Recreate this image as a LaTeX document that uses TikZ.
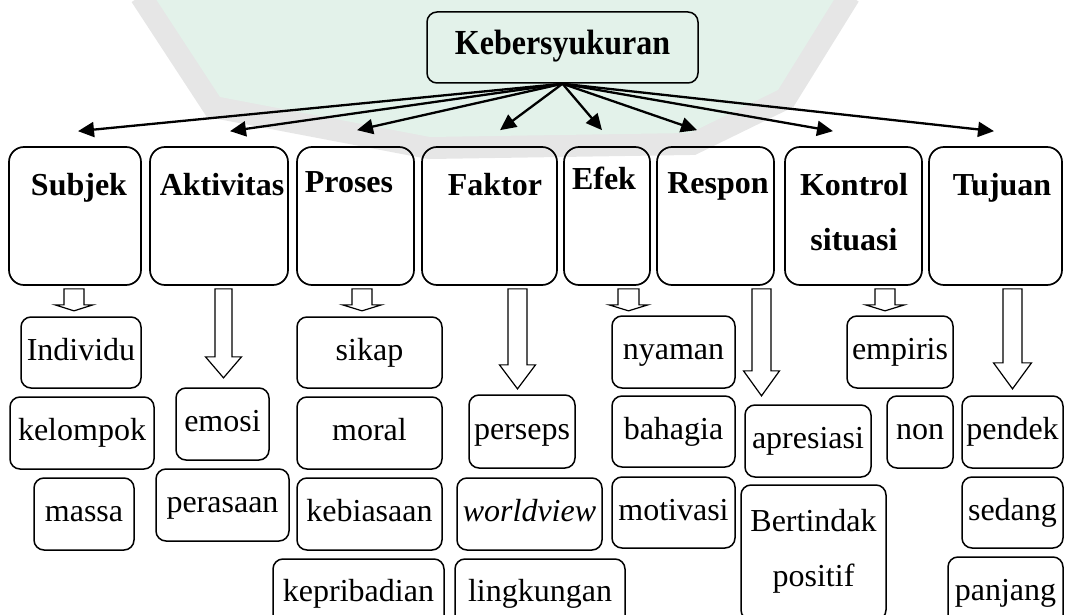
\documentclass[tikz,border=0pt]{standalone}
\usepackage{fontspec}
\setmainfont{Liberation Serif}
\usetikzlibrary{arrows.meta,calc}
\definecolor{wmgreen}{HTML}{E3F2EA}
\definecolor{wmgray}{HTML}{E6E6E6}
% box from (x1,y1) to (x2,y2) in pixel units, named #6
\newcommand\placebox[6][item]{\node[#1, minimum width={(#4-#2)*0.5pt}, minimum height={(#5-#3)*0.5pt}] (#6) at ({(#2+#4)/2},{(#3+#5)/2})}
% hollow down arrow under node #1: x offset, shaft half width, head base, tip, head half width
\newcommand\hollowdown[6]{%
  \begin{scope}[shift={(#1.south)}]
    \draw[hollow] ({#2-#3},3) -- ({#2+#3},3) -- ({#2+#3},#4) -- ({#2+#6},#4) -- (#2,#5) -- ({#2-#6},#4) -- ({#2-#3},#4) -- cycle;
  \end{scope}}
\begin{document}
\begin{tikzpicture}[x=0.5pt,y=-0.5pt,
  item/.style={draw, line width=0.75pt, rounded corners=5pt, inner sep=0pt,
    font=\fontsize{16}{19}\selectfont, text height=11pt, text depth=3.5pt},
  root/.style={item, font=\fontsize{16}{19}\selectfont\bfseries},
  cat/.style={draw, line width=0.85pt, rounded corners=7.5pt, inner sep=0pt},
  ttl/.style={font=\fontsize{16}{19}\selectfont\bfseries, inner sep=0pt, anchor=base},
  txt/.style={font=\fontsize{16}{19}\selectfont, inner sep=0pt, anchor=base},
  link/.style={line width=1.15pt, -{Triangle[length=8pt,width=7.5pt]}},
  hollow/.style={draw, line width=0.6pt, line join=miter},
]
\useasboundingbox (0,0) rectangle (1066,615);
\clip (0,0) rectangle (1066,615);

% background seal
\draw[wmgray, line width=22pt, line join=miter]
  (150,-10) -- (220,97) -- (430,137) -- (690,133) -- (778,90) -- (840,-10);
\fill[wmgreen] (150,-10) -- (220,97) -- (430,137) -- (690,133) -- (778,90) -- (840,-10) -- cycle;

% root
\placebox[root]{427}{12}{698}{83}{keb} {\scalebox{1}[1.1]{Kebersyukuran}};

% categories
\placebox[cat]{9}{147}{141}{285}{subjek} {};
\placebox[cat]{150}{147}{288}{285}{aktiv} {};
\placebox[cat]{297}{147}{414}{285}{proses} {};
\placebox[cat]{422}{147}{557}{285}{faktor} {};
\placebox[cat]{564}{147}{650}{285}{efek} {};
\placebox[cat]{657}{147}{774}{285}{respon} {};
\placebox[cat]{785}{147}{922}{285}{kontrol} {};
\placebox[cat]{929}{147}{1062}{285}{tujuan} {};

\node[ttl] (subjekT) at (79,195) {Subjek};
\node[ttl] (aktivT) at (222,195) {Aktivitas};
\node[ttl] (prosesT) at (349,192) {Proses};
\node[ttl] (faktorT) at (495,196) {Faktor};
\node[ttl] (efekT) at (604,190) {Efek};
\node[ttl] (responT) at (718,193) {Respon};
\node[ttl] (kontrolT) at (854,195) {Kontrol};
\node[ttl] (kontrolT2) at (854,250) {situasi};
\node[ttl] (tujuanT) at (1002,195) {Tujuan};

% arrow ends above the categories
\coordinate (tS) at ($(subjek.north)+(3,-15)$);
\coordinate (tA) at ($(aktiv.north)+(11,-15)$);
\coordinate (tP) at ($(proses.north)+(1.5,-16)$);
\coordinate (tF) at ($(faktor.north)+(10.5,-16)$);
\coordinate (tE) at ($(efek.north)+(-5,-16)$);
\coordinate (tR) at ($(respon.north)+(-18.5,-16)$);
\coordinate (tK) at ($(kontrol.north)+(-20.5,-15)$);
\coordinate (tT) at ($(tujuan.north)+(-1.5,-15)$);
\foreach \t in {tS,tA,tP,tF,tE,tR,tK,tT}
  \draw[link] (keb.south) -- (\t);

% Subjek
\hollowdown{subjek}{-1}{10}{19}{25}{19}
\placebox{21}{317}{141}{388}{individu} {Individu};
\placebox{10}{397}{154}{469}{kelompok} {kelompok};
\placebox{34}{478}{134}{550}{massa} {massa};

% Aktivitas
\hollowdown{aktiv}{4.5}{8.5}{71}{92}{18}
\placebox{176}{388}{269}{460}{emosi} {emosi};
\placebox{156}{469}{289}{541}{perasaan} {perasaan};

% Proses
\hollowdown{proses}{6.5}{10}{19}{25}{19.5}
\placebox{297}{317}{442}{388}{sikap} {sikap};
\placebox{297}{397}{442}{469}{moral} {moral};
\placebox{297}{478}{442}{550}{kebiasaan} {kebiasaan};
\placebox{273}{559}{444}{628}{kepribadian} {kepribadian};

% Faktor
\hollowdown{faktor}{28}{9.5}{79}{103}{18}
\placebox{469}{395}{575}{468}{perseps} {perseps};
\placebox{457}{478}{602}{550}{worldview} {\itshape worldview};
\placebox{455}{559}{625}{628}{lingkungan} {lingkungan};

% Efek
\hollowdown{efek}{21.5}{10.5}{19}{25}{19.5}
\placebox{612}{316}{735}{388}{nyaman} {nyaman};
\placebox{612}{396}{735}{467}{bahagia} {bahagia};
\placebox{612}{477}{735}{548}{motivasi} {motivasi};

% Respon
\hollowdown{respon}{46}{9.5}{85}{110}{18}
\placebox{745}{405}{871}{477}{apresiasi} {apresiasi};
\placebox{741}{485}{886}{620}{bertindak} {};
\node[txt] (bertindakT) at (813.5,531) {Bertindak};
\node[txt] (bertindakT2) at (813.5,586) {positif};

% Kontrol situasi
\hollowdown{kontrol}{31.5}{10}{19}{25}{19.5}
\placebox{847}{316}{953}{388}{empiris} {empiris};
\placebox{887}{396}{953}{468}{non} {non};

% Tujuan
\hollowdown{tujuan}{17}{9.5}{77}{103}{19}
\placebox{962}{396}{1063}{468}{pendek} {pendek};
\placebox{962}{477}{1063}{548}{sedang} {sedang};
\placebox{948}{557}{1063}{628}{panjang} {panjang};
\end{tikzpicture}
\end{document}
